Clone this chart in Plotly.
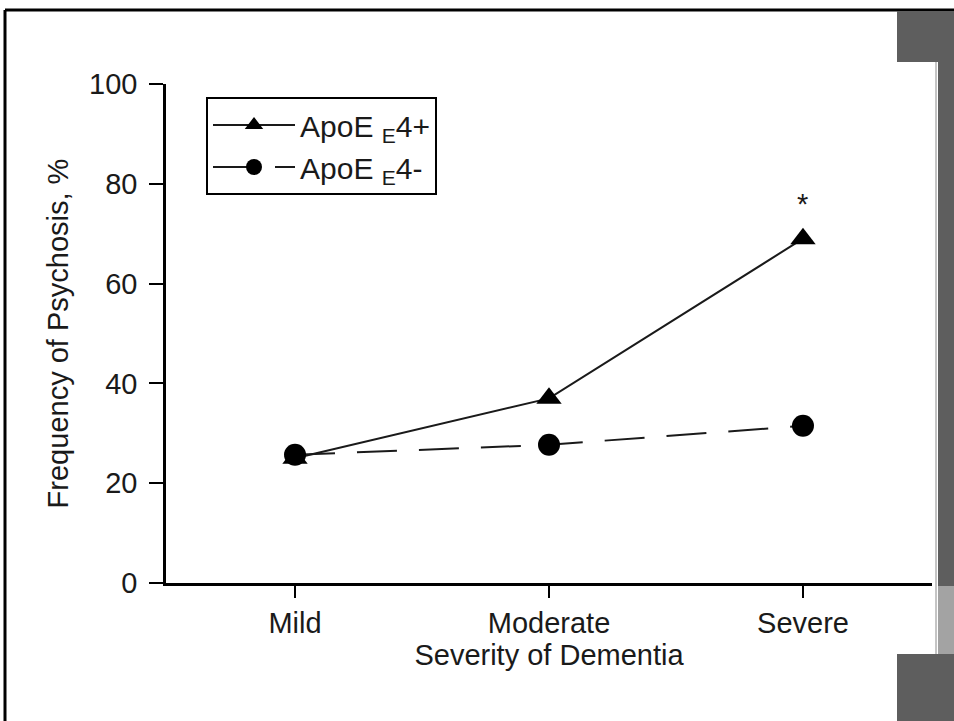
import plotly.graph_objects as go

categories = ["Mild", "Moderate", "Severe"]
apoe4_pos = [25, 37, 69]
apoe4_neg = [25.7, 27.7, 31.5]
y_ticks = [0, 20, 40, 60, 80, 100]
sig_category = "Severe"
sig_value = 76

W, H = 954, 721
L, R, T, B = 166, 22, 84, 138
pw, ph = W - L - R, H - T - B

def px(x):
    return (x - L) / pw

def py(y):
    return (H - B - y) / ph

xs = list(range(len(categories)))
font = "Liberation Sans, Arial, Helvetica, sans-serif"
ink = "#1a1a1a"
fs = 29

fig = go.Figure()
fig.add_trace(go.Scatter(
    x=xs, y=apoe4_pos, name="ApoE <sub>E</sub>4+", mode="lines+markers",
    line=dict(color=ink, width=2),
    marker=dict(symbol="triangle-up", size=22, color="black"),
))
fig.add_trace(go.Scatter(
    x=xs, y=apoe4_neg, name="ApoE <sub>E</sub>4-", mode="lines+markers",
    line=dict(color=ink, width=2, dash="40px,22px"),
    marker=dict(symbol="circle", size=22, color="black"),
))

fig.add_annotation(x=categories.index(sig_category), y=sig_value, text="*",
                   showarrow=False, font=dict(size=fs, color=ink, family=font))

shapes = [
    dict(type="line", xref="paper", yref="paper", x0=px(5), x1=px(954), y0=py(10), y1=py(10),
         line=dict(color="black", width=3)),
    dict(type="line", xref="paper", yref="paper", x0=px(5), x1=px(5), y0=py(10), y1=py(721),
         line=dict(color="black", width=3)),
    dict(type="rect", xref="paper", yref="paper", x0=px(897), x1=px(954), y0=py(11), y1=py(62),
         fillcolor="#5e5e5e", line=dict(width=0), layer="above"),
    dict(type="rect", xref="paper", yref="paper", x0=px(938), x1=px(954), y0=py(62), y1=py(586),
         fillcolor="#5e5e5e", line=dict(width=0), layer="above"),
    dict(type="rect", xref="paper", yref="paper", x0=px(938), x1=px(954), y0=py(586), y1=py(654),
         fillcolor="#a3a3a3", line=dict(width=0), layer="above"),
    dict(type="rect", xref="paper", yref="paper", x0=px(897), x1=px(954), y0=py(654), y1=py(721),
         fillcolor="#5e5e5e", line=dict(width=0), layer="above"),
    dict(type="line", xref="paper", yref="paper", x0=px(936), x1=px(936), y0=py(62), y1=py(654),
         line=dict(color="#8a8a8a", width=1), layer="above"),
]

fig.update_layout(
    width=W, height=H,
    margin=dict(l=L, r=R, t=T, b=B, pad=0),
    paper_bgcolor="white", plot_bgcolor="white",
    font=dict(family=font, size=fs, color=ink),
    showlegend=True,
    legend=dict(
        x=px(206), y=py(97), xanchor="left", yanchor="top",
        bordercolor="black", borderwidth=2, bgcolor="white",
        font=dict(size=30, family=font, color=ink),
        itemwidth=82, tracegroupgap=0,
    ),
    shapes=shapes,
    xaxis=dict(
        tickmode="array", tickvals=xs, ticktext=categories,
        range=[-0.508, 2.508], showgrid=False, zeroline=False,
        showline=True, linecolor="black", linewidth=2.5,
        ticks="outside", ticklen=12, tickwidth=2, tickcolor="black",
        tickfont=dict(size=fs, family=font, color=ink),
        title=dict(text="Severity of Dementia", standoff=0,
                   font=dict(size=fs, family=font, color=ink)),
    ),
    yaxis=dict(
        range=[0, 100], tickvals=y_ticks, showgrid=False, zeroline=False,
        showline=True, linecolor="black", linewidth=2.5,
        ticks="outside", ticklen=14, tickwidth=2, tickcolor="black",
        ticklabelstandoff=6,
        tickfont=dict(size=fs, family=font, color=ink),
        title=dict(text="Frequency of Psychosis, %", standoff=12,
                   font=dict(size=fs, family=font, color=ink)),
    ),
)

fig.write_html("out.html", config={"displayModeBar": False},
               post_script="document.body.style.margin='0';document.body.style.overflow='hidden';")
